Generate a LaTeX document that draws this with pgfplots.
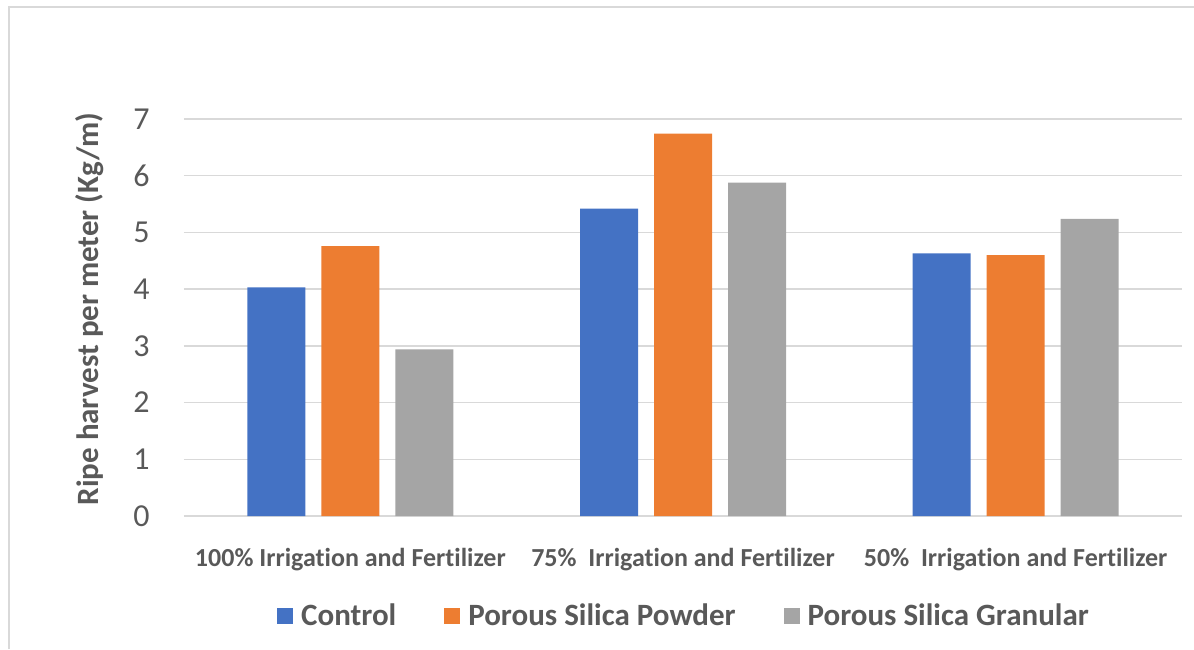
\documentclass[border=0pt]{standalone}
\usepackage{fontspec}
\setmainfont{Carlito}[Ligatures=NoCommon]
\usepackage{pgfplots}
\pgfplotsset{compat=1.18}
\definecolor{cblue}{HTML}{4472C4}
\definecolor{corange}{HTML}{ED7D31}
\definecolor{cgray}{HTML}{A5A5A5}
\definecolor{gridgray}{HTML}{D9D9D9}
\definecolor{txtgray}{HTML}{595959}

\begin{document}
\begin{tikzpicture}
\begin{axis}[
    at={(0,0)}, anchor=south west,
    width=499pt, height=198.5pt, scale only axis,
    xmin=-0.5, xmax=2.5, ymin=0, ymax=7,
    ybar, bar width=29pt,
    axis line style={draw=none},
    tick style={draw=none},
    ymajorgrids,
    grid style={draw=gridgray, line width=0.75pt},
    ytick={0,1,2,3,4,5,6,7},
    xtick={0,1,2},
    xticklabels={100\% Irrigation and Fertilizer, 75\%\ \ Irrigation and Fertilizer, 50\%\ \ Irrigation and Fertilizer},
    /pgf/number format/assume math mode=true,
    yticklabel style={font=\fontsize{16}{18}\selectfont, text=txtgray, inner sep=0pt, xshift=-17pt},
    xticklabel style={font=\bfseries\fontsize{13}{15}\selectfont, text=txtgray, inner sep=0pt, anchor=base, yshift=-21pt},
    legend columns=3,
    legend style={draw=none, at={(0.5,-0.252)}, anchor=center, inner sep=0pt,
        font=\bfseries\fontsize{15.5}{18}\selectfont, text=txtgray,
        nodes={inner sep=0pt},
        /tikz/every odd column/.append style={column sep=4pt},
        /tikz/every even column/.append style={column sep=24pt}},
    legend image code/.code={\fill[#1] (0pt,-4pt) rectangle (8pt,4pt);},
]
\addplot[fill=cblue, draw=none, bar shift=-37pt] coordinates {(0,4.03) (1,5.42) (2,4.63)};
\addlegendentry{Control}
\addplot[fill=corange, draw=none, bar shift=0pt] coordinates {(0,4.76) (1,6.74) (2,4.60)};
\addlegendentry{Porous Silica Powder}
\addplot[fill=cgray, draw=none, bar shift=37pt] coordinates {(0,2.94) (1,5.88) (2,5.24)};
\addlegendentry{Porous Silica Granular}
\end{axis}
\node[rotate=90, anchor=center, font=\bfseries\fontsize{15.5}{17}\selectfont, text=txtgray] at (-47pt,103.5pt) {Ripe harvest per meter (Kg/m)};
\draw[gridgray, line width=0.75pt] (-87.5pt,-66.5pt) -- (-87.5pt,254.5pt) -- (505pt,254.5pt);
\pgfresetboundingbox
\path (-92pt,-66.5pt) rectangle (505pt,258pt);
\end{tikzpicture}
\end{document}
